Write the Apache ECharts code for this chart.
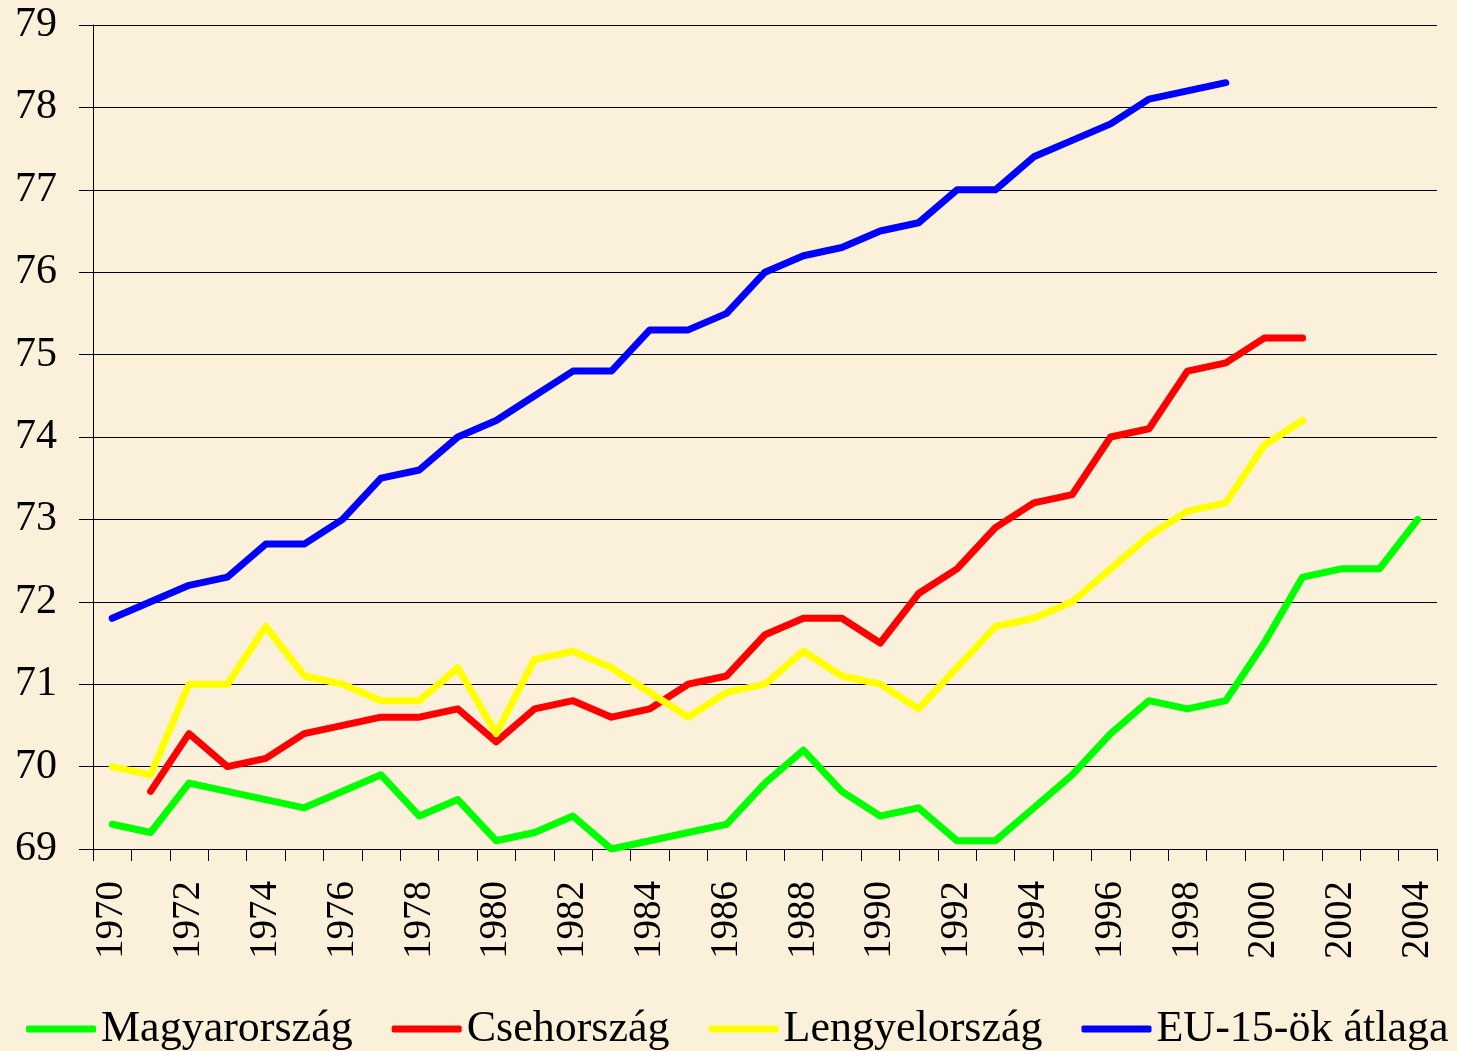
<!DOCTYPE html>
<html>
<head>
<meta charset="utf-8">
<script src="https://cdn.jsdelivr.net/npm/echarts@6/dist/echarts.min.js"></script>
<style>
html, body { margin: 0; padding: 0; background: #fbf0d9; }
#main { width: 1457px; height: 1051px; }
</style>
</head>
<body>
<div id="main"></div>
<script>
// évek
var years = [];
for (var y = 1970; y <= 2004; y++) { years.push(String(y)); }

var magyar = [69.3, 69.2, 69.8, 69.7, 69.6, 69.5, 69.7, 69.9, 69.4, 69.6,
	69.1, 69.2, 69.4, 69.0, 69.1, 69.2, 69.3, 69.8, 70.2, 69.7,
	69.4, 69.5, 69.1, 69.1, 69.5, 69.9, 70.4, 70.8, 70.7, 70.8,
	71.5, 72.3, 72.4, 72.4, 73.0];
var cseh = [null, 69.7, 70.4, 70.0, 70.1, 70.4, 70.5, 70.6, 70.6, 70.7,
	70.3, 70.7, 70.8, 70.6, 70.7, 71.0, 71.1, 71.6, 71.8, 71.8,
	71.5, 72.1, 72.4, 72.9, 73.2, 73.3, 74.0, 74.1, 74.8, 74.9,
	75.2, 75.2];
var lengyel = [70.0, 69.9, 71.0, 71.0, 71.7, 71.1, 71.0, 70.8, 70.8, 71.2,
	70.4, 71.3, 71.4, 71.2, 70.9, 70.6, 70.9, 71.0, 71.4, 71.1,
	71.0, 70.7, 71.2, 71.7, 71.8, 72.0, 72.4, 72.8, 73.1, 73.2,
	73.9, 74.2];
var eu15 = [71.8, 72.0, 72.2, 72.3, 72.7, 72.7, 73.0, 73.5, 73.6, 74.0,
	74.2, 74.5, 74.8, 74.8, 75.3, 75.3, 75.5, 76.0, 76.2, 76.3,
	76.5, 76.6, 77.0, 77.0, 77.4, 77.6, 77.8, 78.1, 78.2, 78.3];

var names = ['Magyarország', 'Csehország', 'Lengyelország', 'EU-15-ök átlaga'];
var colors = ['#00ff00', '#ff0000', '#ffff00', '#0000ff'];
var serif = '"Liberation Serif", "DejaVu Serif", serif';

var makeSeries = function(name, data, color) {
	return {
		name: name,
		type: 'line',
		data: data,
		symbol: 'none',
		connectNulls: false,
		lineStyle: { width: 7, color: color, cap: 'round', join: 'round' },
		itemStyle: { color: color }
	};
};

var myChart = echarts.init(document.getElementById('main'));
var option = {
	backgroundColor: '#fbf0d9',
	animation: false,
	grid: { left: 93, right: 20, top: 25, bottom: 202 },
	legend: {
		top: 1002,
		left: 21,
		itemWidth: 70,
		itemHeight: 7,
		itemGap: 39,
		icon: 'roundRect',
		textStyle: { fontFamily: serif, fontSize: 44, color: '#000' },
		data: names
	},
	xAxis: {
		type: 'category',
		data: years,
		boundaryGap: true,
		axisLine: { lineStyle: { color: '#000', width: 1 } },
		axisTick: { show: true, interval: 0, length: 12, lineStyle: { color: '#000' } },
		axisLabel: {
			interval: 1,
			rotate: 90,
			margin: 32,
			fontFamily: serif,
			fontSize: 39,
			color: '#000'
		},
		splitLine: { show: false }
	},
	yAxis: {
		type: 'value',
		min: 69,
		max: 79,
		interval: 1,
		axisLine: { show: true, lineStyle: { color: '#000', width: 1 } },
		axisTick: { show: true, length: 14, lineStyle: { color: '#000' } },
		axisLabel: {
			margin: 36,
			fontFamily: serif,
			fontSize: 42,
			color: '#000'
		},
		splitLine: { show: true, lineStyle: { color: '#000', width: 1 } }
	},
	series: [
		makeSeries(names[0], magyar, colors[0]),
		makeSeries(names[1], cseh, colors[1]),
		makeSeries(names[2], lengyel, colors[2]),
		makeSeries(names[3], eu15, colors[3])
	]
};
myChart.setOption(option);
</script>
</body>
</html>
